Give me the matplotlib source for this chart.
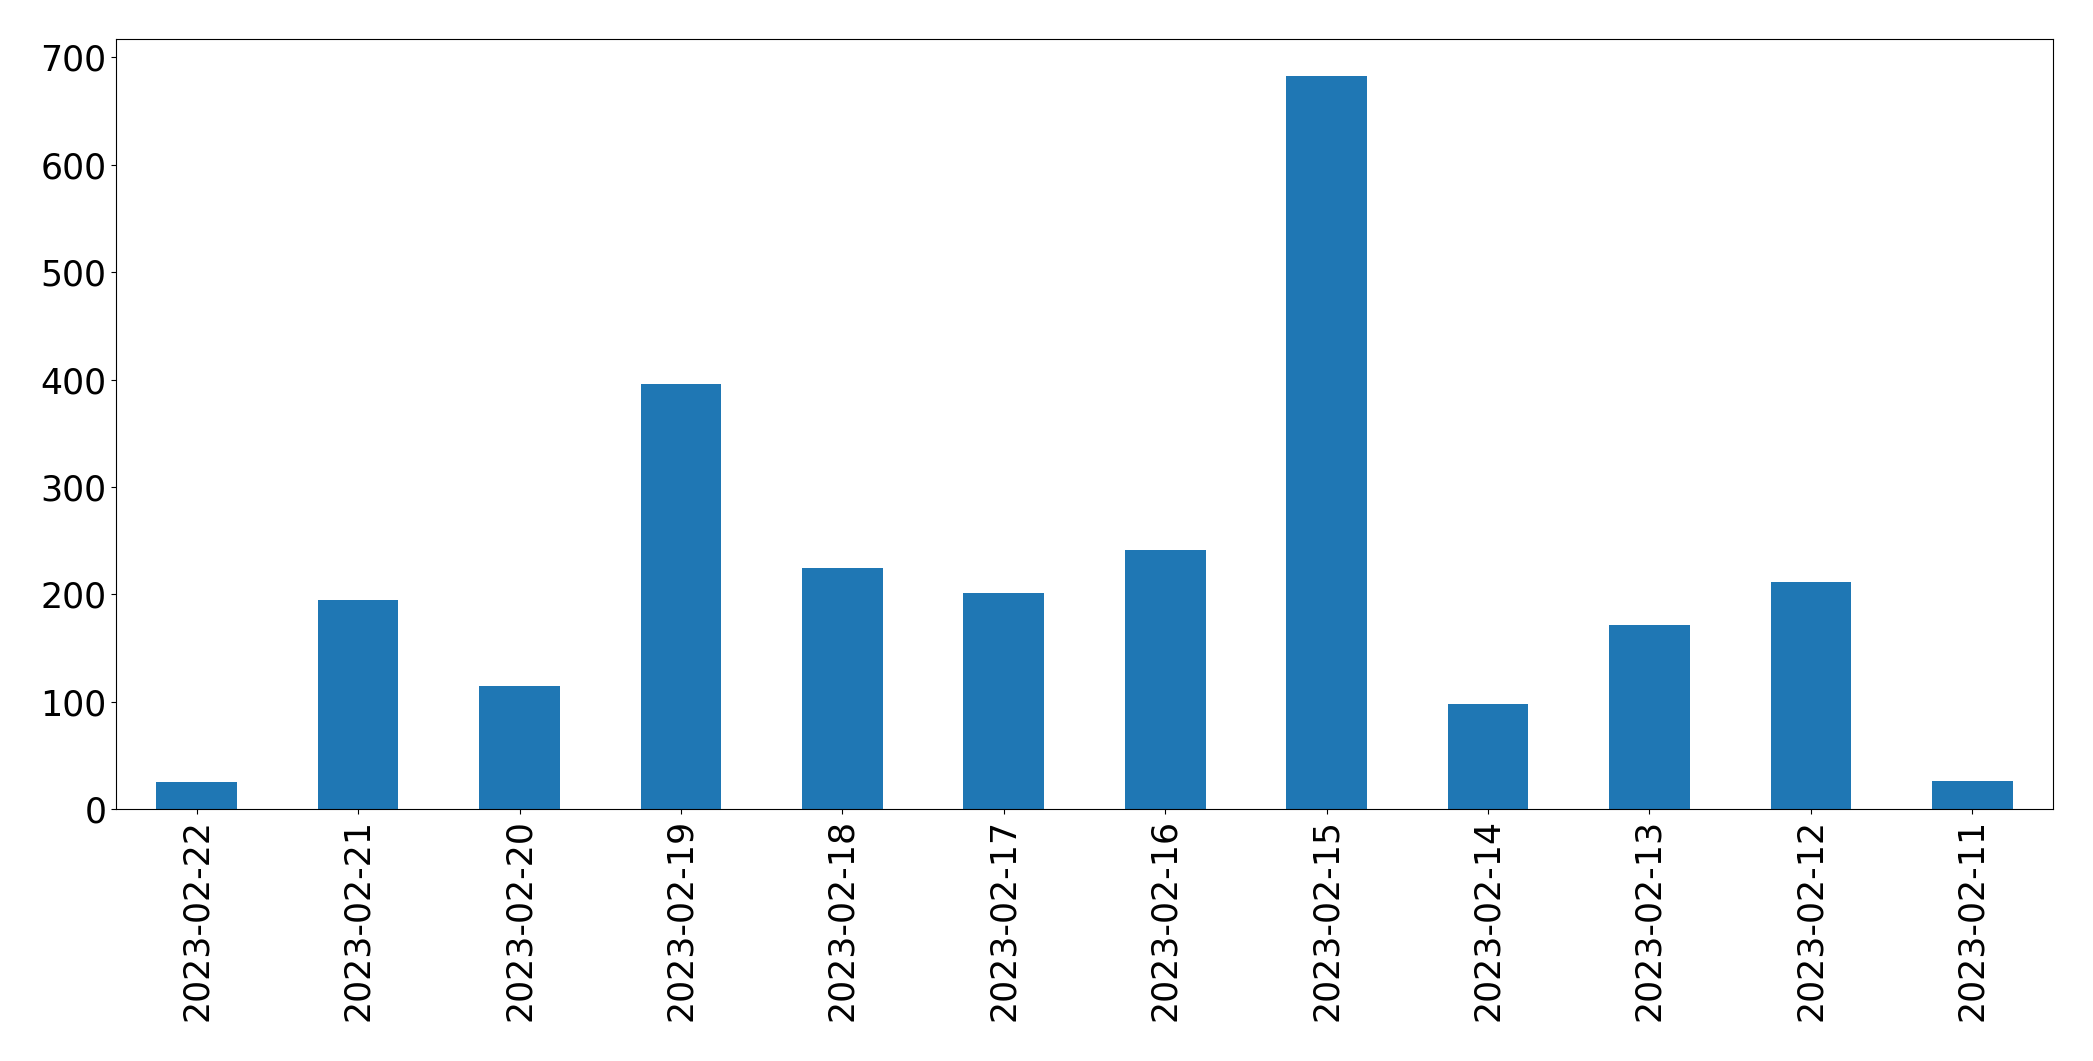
import numpy as np
import pandas as pd
import matplotlib.pyplot as plt

# daily counts, newest first
dates = ["2023-02-22", "2023-02-21", "2023-02-20", "2023-02-19", "2023-02-18", "2023-02-17",
         "2023-02-16", "2023-02-15", "2023-02-14", "2023-02-13", "2023-02-12", "2023-02-11"]
counts = [25, 195, 115, 396, 224, 201, 241, 683, 98, 171, 211, 26]

s = pd.Series(counts, index=dates)

fig = plt.figure(figsize=(20.93, 10.61), dpi=100)
ax = fig.add_axes([116 / 2093, 1 - 809 / 1061, (2053 - 116) / 2093, (809 - 39) / 1061])
s.plot(kind="bar", ax=ax, color="#1f77b4")
ax.tick_params(axis="both", labelsize=25)

fig.savefig("out.png", dpi=100)
